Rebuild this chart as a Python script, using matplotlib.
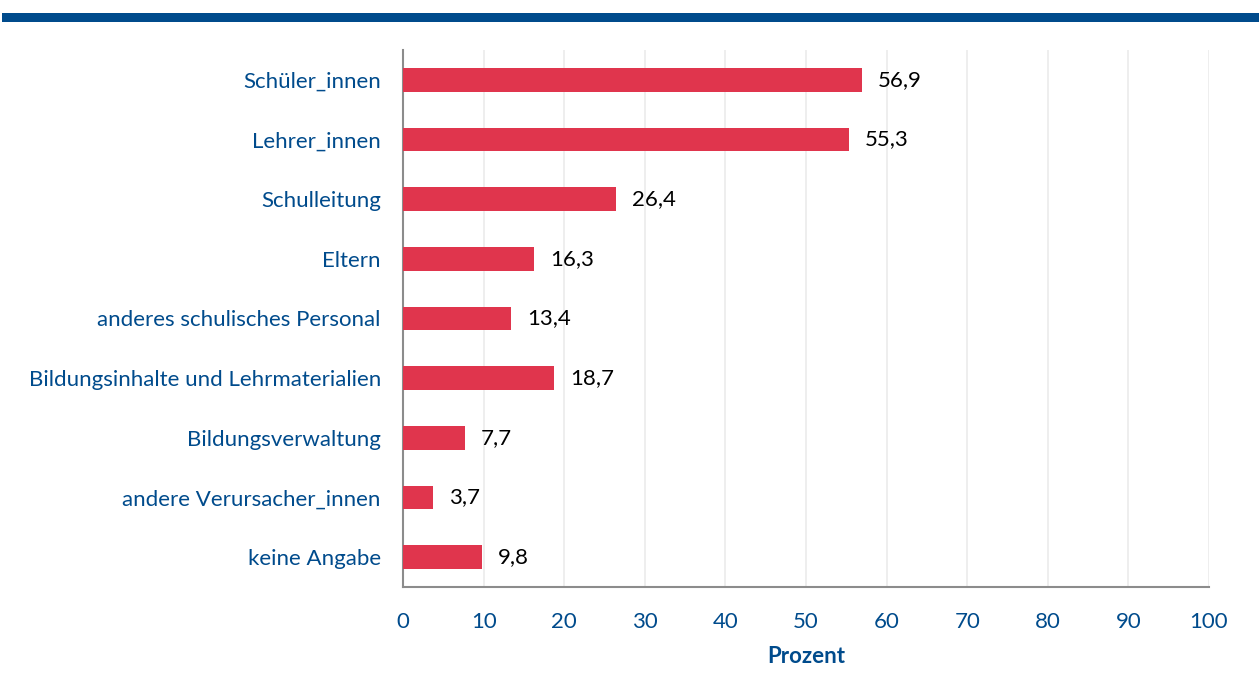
import matplotlib
matplotlib.use("Agg")
import matplotlib.pyplot as plt

categories = [
    "Schüler_innen",
    "Lehrer_innen",
    "Schulleitung",
    "Eltern",
    "anderes schulisches Personal",
    "Bildungsinhalte und Lehrmaterialien",
    "Bildungsverwaltung",
    "andere Verursacher_innen",
    "keine Angabe",
]
values = [56.9, 55.3, 26.4, 16.3, 13.4, 18.7, 7.7, 3.7, 9.8]
xticks = [0, 10, 20, 30, 40, 50, 60, 70, 80, 90, 100]

BLUE = "#004B8C"
RED = "#E0354D"

plt.rcParams["font.family"] = ["Lato", "DejaVu Sans"]

fig = plt.figure(figsize=(12.59, 6.97), dpi=100)
# top band
fig.add_artist(plt.Rectangle((2 / 1259, 1 - 22 / 697), 1, 9 / 697,
                             transform=fig.transFigure, color=BLUE, lw=0))

ax = fig.add_axes([403 / 1259, 1 - 587 / 697, 806 / 1259, 537 / 697])
y = list(range(len(categories)))
ax.barh(y, values, height=0.4, color=RED, zorder=3)
for yi, v in zip(y, values):
    ax.text(v + 2.0, yi, f"{v:.1f}".replace(".", ","), va="center", ha="left",
            fontsize=16, color="black")

ax.set_ylim(len(categories) - 0.5, -0.5)
ax.set_xlim(0, 100)
ax.set_xticks(xticks)
ax.set_yticks(y)
ax.set_yticklabels(categories)
ax.tick_params(axis="both", length=0, labelsize=16, labelcolor=BLUE)
ax.tick_params(axis="y", pad=16)
ax.tick_params(axis="x", pad=18)
ax.grid(axis="x", color="#EBEBEB", lw=1.2, zorder=0)
for s in ["top", "right"]:
    ax.spines[s].set_visible(False)
for s in ["left", "bottom"]:
    ax.spines[s].set_color("#8C8C8C")
    ax.spines[s].set_linewidth(1.5)
ax.set_xlabel("Prozent", fontsize=16, fontweight="bold", color=BLUE, labelpad=10)

fig.savefig("out.png", dpi=100)
